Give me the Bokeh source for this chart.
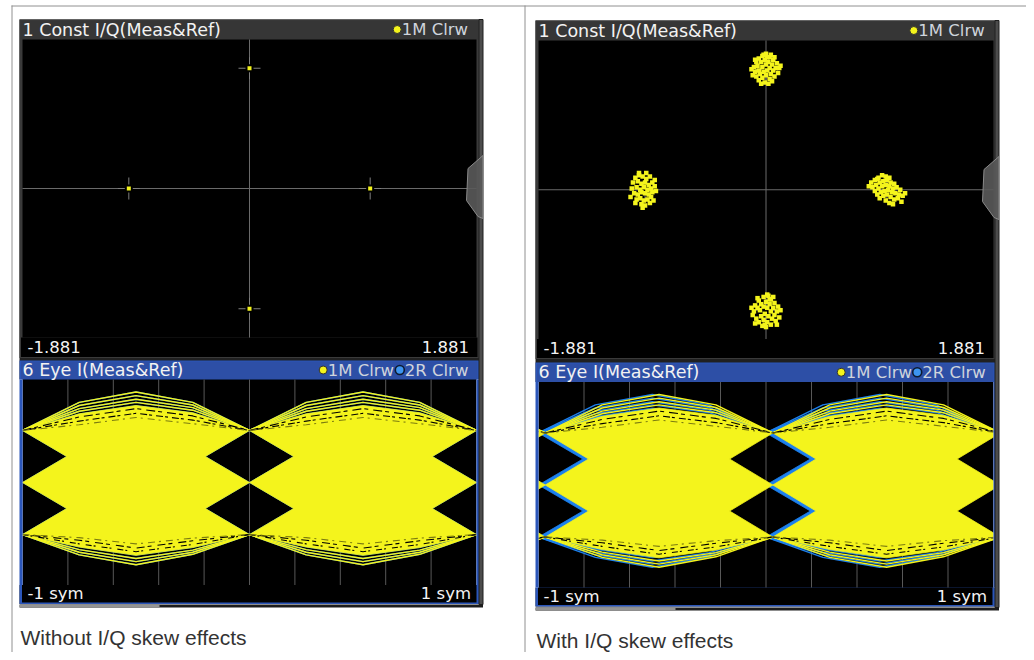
from bokeh.plotting import figure
from bokeh.models import Range1d
from bokeh.embed import file_html
from bokeh.resources import INLINE
from bokeh.core.properties import value

# ======================= DATA =======================
# Constellation (I/Q) axis limits and labels
CONST_I_MIN, CONST_I_MAX = -1.881, 1.881
CONST_Q_MIN, CONST_Q_MAX = -1.239, 1.239
CONST_X_LABELS = ["-1.881", "1.881"]

# reference (ideal) constellation points
REF_I = [1.0, 0.0, -1.0, 0.0]
REF_Q = [0.0, 1.0, 0.0, -1.0]

# measured points without skew (coincide with reference)
MEAS_I_NOSKEW = [1.0, 0.0, -1.0, 0.0]
MEAS_Q_NOSKEW = [0.0, 1.0, 0.0, -1.0]

# measured clusters with skew: offsets from the ideal point, in 1/100 units
CLUSTER_TOP = [(-10, 2), (-8, 6), (-6, 9), (-3, 11), (0, 13), (3, 10), (6, 8), (9, 5), (11, 1),
               (-9, -2), (-7, 3), (-4, 6), (-1, 8), (2, 6), (5, 4), (8, 1), (10, -3), (-11, -5),
               (-6, -1), (-3, 2), (0, 4), (3, 1), (6, -1), (-8, -6), (-5, -4), (-2, -2), (1, -1),
               (4, -4), (7, -6), (-6, -9), (-3, -7), (0, -5), (3, -8), (-1, -11), (2, -12),
               (-4, -12), (5, -10), (-2, 12), (1, 10), (4, 12), (7, 10), (-12, 0), (12, 3), (-9, 8)]
CLUSTER_BOTTOM = [(-9, 4), (-6, 8), (-2, 11), (1, 13), (4, 9), (7, 6), (10, 3), (-10, -1), (-7, 2),
                  (-4, 5), (0, 7), (3, 5), (6, 2), (9, -1), (-11, -4), (-5, 0), (-2, 3), (1, 2),
                  (4, -1), (7, -4), (11, -6), (-8, -7), (-4, -5), (-1, -3), (2, -5), (5, -7),
                  (8, -9), (-6, -10), (-2, -8), (1, -10), (4, -12), (-3, -13), (0, -14), (3, 9),
                  (-7, 10), (6, 11), (-12, 2), (12, 0), (9, -12), (-9, -11), (2, 12), (-1, -12)]
CLUSTER_LEFT = [(-8, 10), (-5, 12), (-2, 11), (1, 9), (4, 11), (-10, 6), (-6, 7), (-3, 5), (0, 6),
                (3, 4), (6, 6), (-11, 1), (-7, 2), (-4, 0), (-1, 2), (2, 0), (5, 1), (8, 3),
                (-9, -3), (-6, -4), (-3, -2), (0, -3), (3, -4), (6, -2), (9, -1), (-7, -8),
                (-4, -7), (-1, -9), (2, -8), (5, -6), (-3, -12), (0, -13), (-8, -11), (4, -11),
                (-12, -6), (7, -9), (-5, 14), (8, 8), (-2, -15), (1, 14)]
CLUSTER_RIGHT = [(-13, 6), (-10, 8), (-7, 10), (-4, 12), (-1, 11), (2, 10), (-12, 2), (-9, 4),
                 (-6, 6), (-3, 7), (0, 8), (3, 6), (6, 5), (-10, -1), (-7, 1), (-4, 3), (-1, 4),
                 (2, 3), (5, 1), (8, 2), (11, 0), (-8, -4), (-5, -2), (-2, -1), (1, 0), (4, -2),
                 (7, -3), (10, -4), (13, -5), (-6, -7), (-3, -5), (0, -4), (3, -6), (6, -8),
                 (9, -7), (12, -10), (-1, -9), (2, -11), (5, -12), (-15, 3), (15, -3), (-8, 9)]
CLUSTERS = [(0.0, 1.0, CLUSTER_TOP), (0.0, -1.0, CLUSTER_BOTTOM),
            (-1.0, 0.0, CLUSTER_LEFT), (1.0, 0.0, CLUSTER_RIGHT)]

# Eye diagram (I component)
EYE_X_LABELS = ["-1 sym", "1 sym"]
EYE_T_MIN, EYE_T_MAX = -1.0, 1.0
EYE_Y_MIN, EYE_Y_MAX = -1.97, 1.98
EYE_GRID_T = [-0.8, -0.6, -0.4, -0.2, 0.0, 0.2, 0.4, 0.6, 0.8]
EYE_T = [0.0, 0.25, 0.5, 0.75, 1.0]          # samples within one symbol
EYE_LEVELS = [1.0, 0.0, -1.0]
EYE_FILL_TOP = [1.0, 1.32, 1.48, 1.34, 1.0]
EYE_FILL_BOT = [-1.0, -1.24, -1.40, -1.25, -1.0]
EYE_TRACES = [[1.0, 1.54, 1.74, 1.54, 1.0],
              [1.0, 1.48, 1.67, 1.49, 1.0],
              [1.0, 1.42, 1.60, 1.44, 1.0],
              [1.0, 1.37, 1.54, 1.39, 1.0],
              [-1.0, -1.39, -1.58, -1.38, -1.0],
              [-1.0, -1.34, -1.52, -1.34, -1.0],
              [-1.0, -1.29, -1.46, -1.30, -1.0]]
EYE_STREAKS = [[1.0, 1.26, 1.42, 1.28, 1.0],
               [1.0, 1.18, 1.33, 1.20, 1.0],
               [-1.0, -1.18, -1.33, -1.19, -1.0],
               [-1.0, -1.11, -1.26, -1.12, -1.0]]
EYE_OLIVE = [[1.0, 1.11, 1.25, 1.13, 1.0],
             [-1.0, -1.06, -1.18, -1.07, -1.0]]
EYE_OPENING_REF = 0.195
EYE_OPENING_SKEW = 0.19
IQ_SKEW_SYM = 0.03

CONST_TITLE = "1 Const I/Q(Meas&Ref)"
EYE_TITLE = "6 Eye I(Meas&Ref)"
LEG_MEAS = "1M Clrw"
LEG_REF = "2R Clrw"

# ======================= STYLE / LAYOUT =======================
YELLOW = "#f4f41c"
BLUE = "#1c80ee"
FONT = value("DejaVu Sans")
CAP_FONT = value("Liberation Sans")

SHOTS = [
    dict(x0=19, x1=482.5, px=(22, 476), ct=(19, 39), cp=(39, 337), cl=(337, 357.5),
         et=(360, 379), ep=(379, 584.5), el=(584.5, 602), sb=604, skew=False,
         caption="Without I/Q skew effects", cap=(20, 636.5), handle=155,
         leg_c=396.7, leg_e=(322.7, 399.3), mask=(8, 22, 476, 482.5)),
    dict(x0=535, x1=998.5, px=(538, 993), ct=(20, 40), cp=(40, 338.5), cl=(338.5, 358.5),
         et=(362, 381.5), ep=(381.5, 587), el=(587, 604.5), sb=607, skew=True,
         caption="With I/Q skew effects", cap=(536, 640), handle=156,
         leg_c=913.3, leg_e=(840.7, 916.7), mask=(482.5, 538, 993, 1026)),
]

W, H = 1026, 652
p = figure(width=W, height=H, x_range=Range1d(0, W), y_range=Range1d(H, 0),
           output_backend="svg", toolbar_location=None, x_axis_type=None, y_axis_type=None,
           min_border=0, outline_line_color=None, background_fill_color="white",
           border_fill_color="white")


def ring(t0, w, top, bot, full=True):
    mid_hi = (EYE_LEVELS[0] + EYE_LEVELS[1]) / 2
    mid_lo = (EYE_LEVELS[1] + EYE_LEVELS[2]) / 2
    lev = EYE_LEVELS[1]
    idx = list(range(len(EYE_T))) if full else list(range(len(EYE_T) - 2, len(EYE_T)))
    xs, ys = [], []
    for i in idx:
        xs.append(t0 + EYE_T[i]); ys.append(top[i])
    te = t0 + EYE_T[-1]
    xs += [te - w, te, te - w]; ys += [mid_hi, lev, mid_lo]
    for i in reversed(idx):
        xs.append(t0 + EYE_T[i]); ys.append(bot[i])
    if full:
        xs += [t0 + w, t0, t0 + w]; ys += [mid_lo, lev, mid_hi]
    return xs, ys


def traces(rows, intervals):
    xs, ys = [], []
    for t0, full in intervals:
        idx = list(range(len(EYE_T))) if full else list(range(len(EYE_T) - 2, len(EYE_T)))
        for r in rows:
            xs.append([t0 + EYE_T[i] for i in idx]); ys.append([r[i] for i in idx])
    return xs, ys


def draw_eye(es, shift, w, intervals, fill_color, line_color, details=True):
    rx, ry = [], []
    for t0, full in intervals:
        a, b = ring(t0 + shift, w, EYE_FILL_TOP, EYE_FILL_BOT, full)
        rx.append(a); ry.append(b)
    es.patches(rx, ry, fill_color=fill_color, line_color=fill_color, line_width=0.8)
    ivs = [(t0 + shift, full) for t0, full in intervals]
    tx, ty = traces(EYE_TRACES, ivs)
    es.multi_line(tx, ty, line_color=line_color, line_width=1.4)
    if details:
        for k, row in enumerate(EYE_STREAKS):
            sx, sy = traces([row], ivs)
            es.multi_line(sx, sy, line_color="black", line_width=1.1,
                          line_dash=["9 3 4 5", "3 4 7 2", "6 2 2 6", "4 6 8 3"][k])
        ox, oy = traces(EYE_OLIVE, ivs)
        es.multi_line(ox, oy, line_color="#7c7c10", line_width=1.1, line_dash="7 4 2 5")


# ---------- backgrounds ----------
for s in SHOTS:
    x0, x1 = s["x0"], s["x1"]; sx = x1 - 4
    px0, px1 = s["px"]
    p.quad(left=x0, right=sx, top=s["ct"][0], bottom=s["el"][1] + 1.5, fill_color="#202020", line_color=None)
    p.quad(left=x0, right=sx, top=s["ct"][0], bottom=s["cl"][1], fill_color="#3a3a3a", line_color=None)
    p.quad(left=x0 + 1, right=sx - 1, top=s["ct"][0] + 1, bottom=s["ct"][1], fill_color="#363636", line_color=None)
    p.quad(left=px0, right=px1, top=s["cp"][0], bottom=s["cp"][1], fill_color="black", line_color=None)
    p.quad(left=x0 + 1.5, right=sx - 1.5, top=s["cp"][1], bottom=s["cl"][1] - 1, fill_color="black", line_color=None)
    # eye panel (active, blue frame)
    p.quad(left=x0, right=sx, top=s["et"][0], bottom=s["el"][1] + 1.5, fill_color="#2b56ba", line_color=None)
    p.quad(left=x0 + 1.5, right=sx - 1.5, top=s["et"][0] + 1, bottom=s["et"][1], fill_color="#2d4fa6", line_color=None)
    p.quad(left=px0, right=px1, top=s["ep"][0], bottom=s["ep"][1], fill_color="black", line_color=None)
    p.quad(left=x0 + 2.5, right=sx - 2.5, top=s["ep"][1], bottom=s["el"][1], fill_color="black", line_color=None)

# ---------- data panels ----------
for s in SHOTS:
    px0, px1 = s["px"]
    cs = p.subplot(x_source=Range1d(CONST_I_MIN, CONST_I_MAX), y_source=Range1d(CONST_Q_MIN, CONST_Q_MAX),
                   x_target=Range1d(px0, px1), y_target=Range1d(s["cp"][1], s["cp"][0]))
    cs.segment(x0=[0.0, CONST_I_MIN], y0=[CONST_Q_MIN, 0.0], x1=[0.0, CONST_I_MAX], y1=[CONST_Q_MAX, 0.0],
               line_color="#6a6a6a", line_width=1)
    cs.scatter(REF_I, REF_Q, marker="cross", size=22, line_color="#7e7e7e", line_width=1)
    cs.scatter(REF_I, REF_Q, marker="square", size=8, fill_color="black", line_color=None)
    if s["skew"]:
        mi, mq = [], []
        for ci, cq, offs in CLUSTERS:
            for di, dq in offs:
                mi.append(ci + di / 100); mq.append(cq + dq / 100)
        cs.scatter(mi, mq, marker="square", size=4.5, fill_color=YELLOW, line_color=None)
    else:
        cs.scatter(MEAS_I_NOSKEW, MEAS_Q_NOSKEW, marker="square", size=4, fill_color=YELLOW, line_color=None)

    es = p.subplot(x_source=Range1d(EYE_T_MIN, EYE_T_MAX), y_source=Range1d(EYE_Y_MIN, EYE_Y_MAX),
                   x_target=Range1d(px0, px1), y_target=Range1d(s["ep"][1], s["ep"][0]))
    es.segment(x0=EYE_GRID_T, y0=[EYE_Y_MIN] * len(EYE_GRID_T), x1=EYE_GRID_T, y1=[EYE_Y_MAX] * len(EYE_GRID_T),
               line_color="#585858", line_width=1)
    # reference trace (2R, blue)
    draw_eye(es, 0.0, EYE_OPENING_REF, [(-1.0, True), (0.0, True)], BLUE, BLUE, details=False)
    # measured trace (1M, yellow)
    if s["skew"]:
        draw_eye(es, IQ_SKEW_SYM, EYE_OPENING_SKEW, [(-2.0, False), (-1.0, True), (0.0, True)], YELLOW, YELLOW)
    else:
        draw_eye(es, 0.0, EYE_OPENING_REF, [(-1.0, True), (0.0, True)], YELLOW, YELLOW)

# ---------- masks for overflow outside eye frames ----------
for s in SHOTS:
    m = s["mask"]
    p.quad(left=[m[0], m[2]], right=[m[1], m[3]], top=s["ep"][0], bottom=s["ep"][1],
           fill_color="white", line_color=None)

# ---------- frames, strips, handles ----------
for s in SHOTS:
    x0, x1 = s["x0"], s["x1"]; sx = x1 - 4
    px0, px1 = s["px"]
    p.quad(left=x0, right=px0, top=s["ep"][0], bottom=s["ep"][1], fill_color="#2b56ba", line_color=None)
    p.quad(left=px1, right=sx, top=s["ep"][0], bottom=s["ep"][1], fill_color="#2b56ba", line_color=None)
    p.quad(left=sx, right=x1, top=s["ct"][0], bottom=s["sb"], fill_color="#4c4c4c", line_color="#1e1e1e", line_width=1)
    p.quad(left=x0, right=x1, top=s["sb"], bottom=s["sb"] + 3, fill_color="#1c1c1c", line_color=None)
    p.quad(left=x0, right=x0 + 140, top=s["sb"] + 0.7, bottom=s["sb"] + 2.3, fill_color="#bcbcbc", line_color=None)
    h = s["handle"]
    p.patch([x1, x1 - 15, x1 - 16.5, x1 - 5, x1], [h, h + 13, h + 45, h + 61, h + 63],
            fill_color="#5a5a5a", fill_alpha=0.9, line_color="#8a8a8a", line_width=1)

# table borders
p.segment(x0=[11.5, 524.5, 11], y0=[5, 5, 5.5], x1=[11.5, 524.5, W], y1=[H, H, 5.5],
          line_color="#909090", line_width=1)

# ---------- texts ----------
for s in SHOTS:
    x0, x1 = s["x0"], s["x1"]; sx = x1 - 4
    ctm = (s["ct"][0] + s["ct"][1]) / 2
    etm = (s["et"][0] + s["et"][1]) / 2
    clm = (s["cl"][0] + s["cl"][1]) / 2 - 1
    elm = (s["el"][0] + s["el"][1]) / 2
    p.text(x=[x0 + 3, x0 + 3], y=[ctm, etm], text=[CONST_TITLE, EYE_TITLE], text_font=FONT,
           text_font_size="17.5px", text_color="#f2f2f2", text_baseline="middle", text_align="left")
    # legends
    p.scatter([s["leg_c"], s["leg_e"][0]], [ctm, etm], marker="circle", size=8, fill_color=YELLOW,
              line_color="#303030", line_width=1)
    p.scatter([s["leg_e"][1]], [etm], marker="circle", size=9, fill_color="#3d95f0",
              line_color="#0e1a30", line_width=1.6)
    p.text(x=[s["leg_c"] + 4.5, s["leg_e"][0] + 4.5, s["leg_e"][1] + 5],
           y=[ctm, etm, etm], text=[LEG_MEAS, LEG_MEAS, LEG_REF], text_font=FONT,
           text_font_size="16.5px", text_color="#cfd4dc", text_baseline="middle", text_align="left")
    # axis end labels
    p.text(x=[x0 + 8, x0 + 8], y=[clm, elm], text=[CONST_X_LABELS[0], EYE_X_LABELS[0]], text_font=FONT,
           text_font_size="16.5px", text_color="#f4f4f4", text_baseline="middle", text_align="left")
    p.text(x=[sx - 10, sx - 8], y=[clm, elm], text=[CONST_X_LABELS[1], EYE_X_LABELS[1]], text_font=FONT,
           text_font_size="16.5px", text_color="#f4f4f4", text_baseline="middle", text_align="right")
    # caption
    p.text(x=[s["cap"][0]], y=[s["cap"][1]], text=[s["caption"]], text_font=CAP_FONT,
           text_font_size="21px", text_color="#333333", text_baseline="middle", text_align="left")

open("out.html", "w").write(file_html(p, INLINE))
